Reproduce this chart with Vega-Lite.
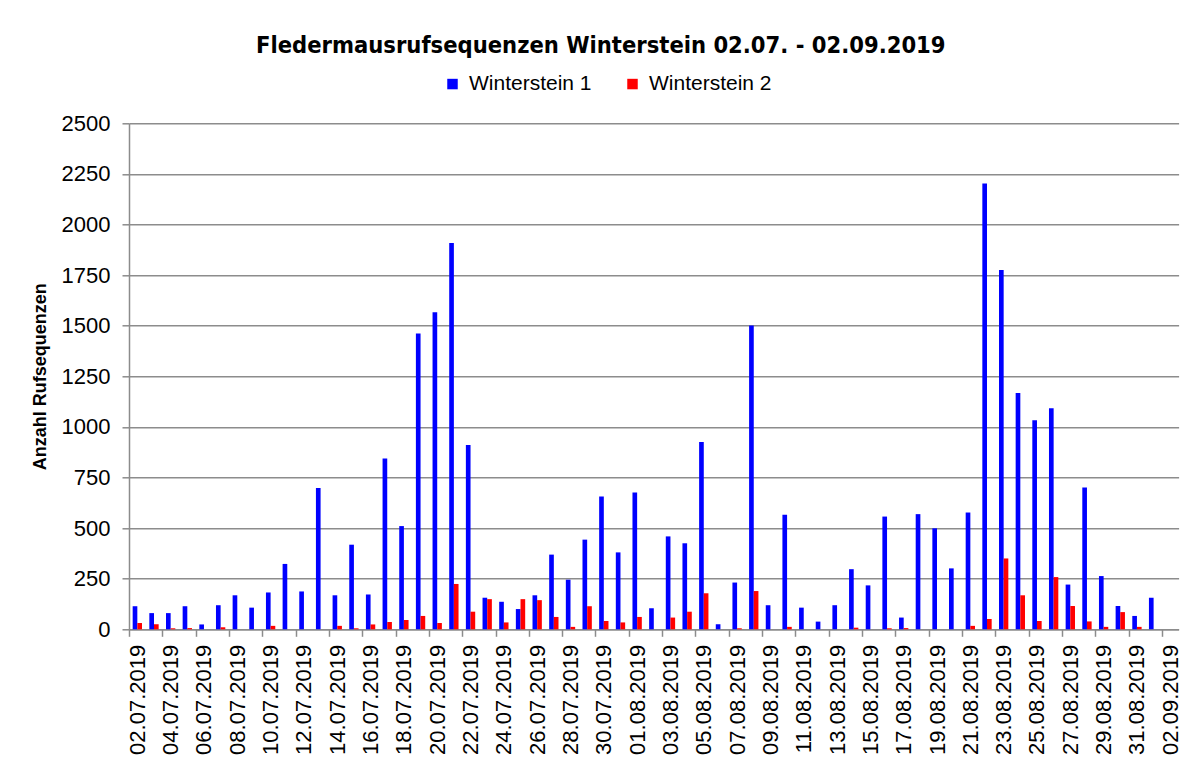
{
  "$schema": "https://vega.github.io/schema/vega-lite/v6.json",
  "width": 1049.6,
  "height": 506,
  "autosize": {"type": "none"},
  "padding": {"left": 129, "top": 123.3, "right": 11.4, "bottom": 132.7},
  "background": "white",
  "title": {
    "text": "Fledermausrufsequenzen Winterstein 02.07. - 02.09.2019",
    "font": "DejaVu Sans Condensed",
    "fontSize": 23.5,
    "fontWeight": "bold",
    "color": "black",
    "anchor": "middle",
    "dx": -53,
    "offset": 16
  },
  "data": {
    "values": [
      {"date": "02.07.2019", "series": "Winterstein 1", "value": 114}, {"date": "02.07.2019", "series": "Winterstein 2", "value": 31},
      {"date": "03.07.2019", "series": "Winterstein 1", "value": 80}, {"date": "03.07.2019", "series": "Winterstein 2", "value": 25},
      {"date": "04.07.2019", "series": "Winterstein 1", "value": 80}, {"date": "04.07.2019", "series": "Winterstein 2", "value": 5},
      {"date": "05.07.2019", "series": "Winterstein 1", "value": 114}, {"date": "05.07.2019", "series": "Winterstein 2", "value": 6},
      {"date": "06.07.2019", "series": "Winterstein 1", "value": 24}, {"date": "06.07.2019", "series": "Winterstein 2", "value": 0},
      {"date": "07.07.2019", "series": "Winterstein 1", "value": 119}, {"date": "07.07.2019", "series": "Winterstein 2", "value": 10},
      {"date": "08.07.2019", "series": "Winterstein 1", "value": 168}, {"date": "08.07.2019", "series": "Winterstein 2", "value": 0},
      {"date": "09.07.2019", "series": "Winterstein 1", "value": 107}, {"date": "09.07.2019", "series": "Winterstein 2", "value": 0},
      {"date": "10.07.2019", "series": "Winterstein 1", "value": 182}, {"date": "10.07.2019", "series": "Winterstein 2", "value": 17},
      {"date": "11.07.2019", "series": "Winterstein 1", "value": 323}, {"date": "11.07.2019", "series": "Winterstein 2", "value": 0},
      {"date": "12.07.2019", "series": "Winterstein 1", "value": 187}, {"date": "12.07.2019", "series": "Winterstein 2", "value": 0},
      {"date": "13.07.2019", "series": "Winterstein 1", "value": 698}, {"date": "13.07.2019", "series": "Winterstein 2", "value": 0},
      {"date": "14.07.2019", "series": "Winterstein 1", "value": 168}, {"date": "14.07.2019", "series": "Winterstein 2", "value": 17},
      {"date": "15.07.2019", "series": "Winterstein 1", "value": 418}, {"date": "15.07.2019", "series": "Winterstein 2", "value": 5},
      {"date": "16.07.2019", "series": "Winterstein 1", "value": 172}, {"date": "16.07.2019", "series": "Winterstein 2", "value": 24},
      {"date": "17.07.2019", "series": "Winterstein 1", "value": 844}, {"date": "17.07.2019", "series": "Winterstein 2", "value": 36},
      {"date": "18.07.2019", "series": "Winterstein 1", "value": 510}, {"date": "18.07.2019", "series": "Winterstein 2", "value": 46},
      {"date": "19.07.2019", "series": "Winterstein 1", "value": 1461}, {"date": "19.07.2019", "series": "Winterstein 2", "value": 66},
      {"date": "20.07.2019", "series": "Winterstein 1", "value": 1566}, {"date": "20.07.2019", "series": "Winterstein 2", "value": 31},
      {"date": "21.07.2019", "series": "Winterstein 1", "value": 1909}, {"date": "21.07.2019", "series": "Winterstein 2", "value": 224},
      {"date": "22.07.2019", "series": "Winterstein 1", "value": 910}, {"date": "22.07.2019", "series": "Winterstein 2", "value": 87},
      {"date": "23.07.2019", "series": "Winterstein 1", "value": 156}, {"date": "23.07.2019", "series": "Winterstein 2", "value": 149},
      {"date": "24.07.2019", "series": "Winterstein 1", "value": 136}, {"date": "24.07.2019", "series": "Winterstein 2", "value": 34},
      {"date": "25.07.2019", "series": "Winterstein 1", "value": 100}, {"date": "25.07.2019", "series": "Winterstein 2", "value": 149},
      {"date": "26.07.2019", "series": "Winterstein 1", "value": 168}, {"date": "26.07.2019", "series": "Winterstein 2", "value": 144},
      {"date": "27.07.2019", "series": "Winterstein 1", "value": 369}, {"date": "27.07.2019", "series": "Winterstein 2", "value": 61},
      {"date": "28.07.2019", "series": "Winterstein 1", "value": 245}, {"date": "28.07.2019", "series": "Winterstein 2", "value": 12},
      {"date": "29.07.2019", "series": "Winterstein 1", "value": 443}, {"date": "29.07.2019", "series": "Winterstein 2", "value": 114},
      {"date": "30.07.2019", "series": "Winterstein 1", "value": 656}, {"date": "30.07.2019", "series": "Winterstein 2", "value": 41},
      {"date": "31.07.2019", "series": "Winterstein 1", "value": 380}, {"date": "31.07.2019", "series": "Winterstein 2", "value": 34},
      {"date": "01.08.2019", "series": "Winterstein 1", "value": 676}, {"date": "01.08.2019", "series": "Winterstein 2", "value": 61},
      {"date": "02.08.2019", "series": "Winterstein 1", "value": 104}, {"date": "02.08.2019", "series": "Winterstein 2", "value": 0},
      {"date": "03.08.2019", "series": "Winterstein 1", "value": 459}, {"date": "03.08.2019", "series": "Winterstein 2", "value": 58},
      {"date": "04.08.2019", "series": "Winterstein 1", "value": 425}, {"date": "04.08.2019", "series": "Winterstein 2", "value": 87},
      {"date": "05.08.2019", "series": "Winterstein 1", "value": 926}, {"date": "05.08.2019", "series": "Winterstein 2", "value": 178},
      {"date": "06.08.2019", "series": "Winterstein 1", "value": 25}, {"date": "06.08.2019", "series": "Winterstein 2", "value": 0},
      {"date": "07.08.2019", "series": "Winterstein 1", "value": 231}, {"date": "07.08.2019", "series": "Winterstein 2", "value": 5},
      {"date": "08.08.2019", "series": "Winterstein 1", "value": 1501}, {"date": "08.08.2019", "series": "Winterstein 2", "value": 189},
      {"date": "09.08.2019", "series": "Winterstein 1", "value": 119}, {"date": "09.08.2019", "series": "Winterstein 2", "value": 0},
      {"date": "10.08.2019", "series": "Winterstein 1", "value": 566}, {"date": "10.08.2019", "series": "Winterstein 2", "value": 12},
      {"date": "11.08.2019", "series": "Winterstein 1", "value": 107}, {"date": "11.08.2019", "series": "Winterstein 2", "value": 0},
      {"date": "12.08.2019", "series": "Winterstein 1", "value": 38}, {"date": "12.08.2019", "series": "Winterstein 2", "value": 0},
      {"date": "13.08.2019", "series": "Winterstein 1", "value": 119}, {"date": "13.08.2019", "series": "Winterstein 2", "value": 0},
      {"date": "14.08.2019", "series": "Winterstein 1", "value": 297}, {"date": "14.08.2019", "series": "Winterstein 2", "value": 8},
      {"date": "15.08.2019", "series": "Winterstein 1", "value": 217}, {"date": "15.08.2019", "series": "Winterstein 2", "value": 0},
      {"date": "16.08.2019", "series": "Winterstein 1", "value": 557}, {"date": "16.08.2019", "series": "Winterstein 2", "value": 5},
      {"date": "17.08.2019", "series": "Winterstein 1", "value": 58}, {"date": "17.08.2019", "series": "Winterstein 2", "value": 6},
      {"date": "18.08.2019", "series": "Winterstein 1", "value": 569}, {"date": "18.08.2019", "series": "Winterstein 2", "value": 0},
      {"date": "19.08.2019", "series": "Winterstein 1", "value": 499}, {"date": "19.08.2019", "series": "Winterstein 2", "value": 0},
      {"date": "20.08.2019", "series": "Winterstein 1", "value": 301}, {"date": "20.08.2019", "series": "Winterstein 2", "value": 0},
      {"date": "21.08.2019", "series": "Winterstein 1", "value": 577}, {"date": "21.08.2019", "series": "Winterstein 2", "value": 17},
      {"date": "22.08.2019", "series": "Winterstein 1", "value": 2203}, {"date": "22.08.2019", "series": "Winterstein 2", "value": 51},
      {"date": "23.08.2019", "series": "Winterstein 1", "value": 1775}, {"date": "23.08.2019", "series": "Winterstein 2", "value": 350},
      {"date": "24.08.2019", "series": "Winterstein 1", "value": 1168}, {"date": "24.08.2019", "series": "Winterstein 2", "value": 168},
      {"date": "25.08.2019", "series": "Winterstein 1", "value": 1033}, {"date": "25.08.2019", "series": "Winterstein 2", "value": 41},
      {"date": "26.08.2019", "series": "Winterstein 1", "value": 1092}, {"date": "26.08.2019", "series": "Winterstein 2", "value": 258},
      {"date": "27.08.2019", "series": "Winterstein 1", "value": 221}, {"date": "27.08.2019", "series": "Winterstein 2", "value": 115},
      {"date": "28.08.2019", "series": "Winterstein 1", "value": 701}, {"date": "28.08.2019", "series": "Winterstein 2", "value": 39},
      {"date": "29.08.2019", "series": "Winterstein 1", "value": 263}, {"date": "29.08.2019", "series": "Winterstein 2", "value": 12},
      {"date": "30.08.2019", "series": "Winterstein 1", "value": 115}, {"date": "30.08.2019", "series": "Winterstein 2", "value": 85},
      {"date": "31.08.2019", "series": "Winterstein 1", "value": 66}, {"date": "31.08.2019", "series": "Winterstein 2", "value": 12},
      {"date": "01.09.2019", "series": "Winterstein 1", "value": 156}, {"date": "01.09.2019", "series": "Winterstein 2", "value": 0},
      {"date": "02.09.2019", "series": "Winterstein 1", "value": 0}, {"date": "02.09.2019", "series": "Winterstein 2", "value": 0}
    ]
  },
  "mark": {"type": "bar"},
  "encoding": {
    "x": {
      "field": "date",
      "type": "nominal",
      "sort": null,
      "scale": {"paddingInner": 0.44, "paddingOuter": 0.22},
      "axis": {
        "title": null,
        "values": ["02.07.2019","04.07.2019","06.07.2019","08.07.2019","10.07.2019","12.07.2019","14.07.2019","16.07.2019","18.07.2019","20.07.2019","22.07.2019","24.07.2019","26.07.2019","28.07.2019","30.07.2019","01.08.2019","03.08.2019","05.08.2019","07.08.2019","09.08.2019","11.08.2019","13.08.2019","15.08.2019","17.08.2019","19.08.2019","21.08.2019","23.08.2019","25.08.2019","27.08.2019","29.08.2019","31.08.2019","02.09.2019"],
        "labelAngle": -90,
        "labelFont": "Liberation Sans",
        "labelFontSize": 22,
        "labelColor": "black",
        "labelPadding": 8,
        "labelOffset": 8.33,
        "tickOffset": -8.33,
        "tickSize": 7,
        "tickColor": "#8c8c8c",
        "tickWidth": 1.5,
        "domainColor": "#8c8c8c",
        "domainWidth": 1.5,
        "grid": false
      }
    },
    "xOffset": {
      "field": "series",
      "type": "nominal",
      "sort": ["Winterstein 1", "Winterstein 2"],
      "scale": {"paddingInner": 0, "paddingOuter": 0}
    },
    "y": {
      "field": "value",
      "type": "quantitative",
      "scale": {"domain": [0, 2500], "nice": false},
      "axis": {
        "title": "Anzahl Rufsequenzen",
        "titleFont": "Liberation Sans",
        "titleFontSize": 18,
        "titleFontWeight": "bold",
        "titleColor": "black",
        "titlePadding": 12,
        "format": "d",
        "values": [0, 250, 500, 750, 1000, 1250, 1500, 1750, 2000, 2250, 2500],
        "labelFont": "Liberation Sans",
        "labelFontSize": 22,
        "labelColor": "black",
        "labelPadding": 12,
        "tickSize": 7,
        "tickColor": "#8c8c8c",
        "tickWidth": 1.5,
        "domainColor": "#8c8c8c",
        "domainWidth": 1.5,
        "grid": true,
        "gridColor": "#8c8c8c",
        "gridWidth": 1.5
      }
    },
    "color": {
      "field": "series",
      "type": "nominal",
      "scale": {"domain": ["Winterstein 1", "Winterstein 2"], "range": ["#0000FF", "#FF0000"]},
      "legend": {
        "title": null,
        "orient": "none",
        "direction": "horizontal",
        "legendX": 313,
        "legendY": -50,
        "symbolType": "square",
        "symbolSize": 110,
        "symbolStrokeWidth": 0,
        "labelFont": "Liberation Sans",
        "labelFontSize": 21,
        "labelColor": "black",
        "labelOffset": 6,
        "columnPadding": 30
      }
    }
  },
  "config": {
    "view": {"stroke": null},
    "axis": {"labelOverlap": false}
  }
}
